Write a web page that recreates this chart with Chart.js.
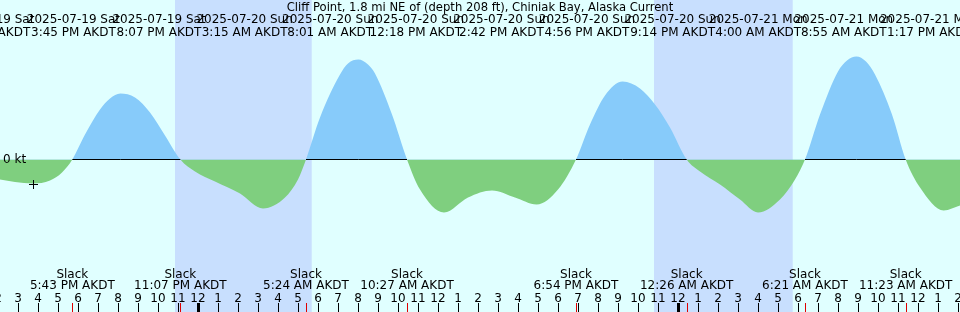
<!DOCTYPE html>
<html>
<head>
<meta charset="utf-8">
<script src="https://cdn.jsdelivr.net/npm/chart.js@4.4.1/dist/chart.umd.min.js"></script>
<style>
html,body{margin:0;padding:0;background:#e0ffff;}
canvas{display:block;}
</style>
</head>
<body>
<canvas id="c" width="960" height="312"></canvas>
<script>
// ---------- DATA (time = hours since 2025-07-19 00:00 AKDT, current in knots) ----------
const title = 'Cliff Point, 1.8 mi NE of (depth 208 ft), Chiniak Bay, Alaska Current';
const times = [
  14.1, 14.85, 15.75, 16.6, 17.2, 17.717,
  18.35, 19.1, 19.6, 20.117, 20.85, 21.6, 22.35, 23.117,
  23.85, 24.85, 26.1, 27.25, 28.35, 29.0, 29.4,
  30.1, 31.1, 31.5, 32.017, 32.5, 32.85, 33.7, 34.45,
  35.1, 36.3, 37.5, 38.7, 39.85, 40.933, 42.0, 42.9,
  43.6, 44.35, 45.233, 46.1, 46.85, 47.6, 48.433,
  49.1, 50.1, 51.1, 52.0, 53.1, 53.85, 54.35,
  55.1, 56.0, 56.45, 56.917, 57.4, 57.85, 58.7, 59.383,
  60.1, 61.283, 62.1
];
const current = [
  -0.20, -0.225, -0.24, -0.21, -0.13, 0,
  0.25, 0.50, 0.61, 0.66, 0.62, 0.47, 0.24, 0,
  -0.12, -0.22, -0.34, -0.49, -0.38, -0.20, 0,
  0.42, 0.85, 0.96, 1.00, 0.95, 0.86, 0.45, 0,
  -0.30, -0.53, -0.38, -0.31, -0.38, -0.45, -0.30, 0,
  0.35, 0.64, 0.78, 0.71, 0.55, 0.32, 0,
  -0.12, -0.25, -0.40, -0.53, -0.40, -0.20, 0,
  0.45, 0.88, 0.99, 1.03, 0.98, 0.85, 0.45, 0,
  -0.28, -0.51, -0.46
];
const slackTimes  = [17.717, 23.117, 29.4, 34.45, 42.9, 48.433, 54.35, 59.383];
const slackLabels = ['5:43 PM AKDT','11:07 PM AKDT','5:24 AM AKDT','10:27 AM AKDT','6:54 PM AKDT','12:26 AM AKDT','6:21 AM AKDT','11:23 AM AKDT'];
const eventDates = ['2025-07-19 Sat','2025-07-19 Sat','2025-07-19 Sat','2025-07-20 Sun','2025-07-20 Sun','2025-07-20 Sun','2025-07-20 Sun','2025-07-20 Sun','2025-07-20 Sun','2025-07-21 Mon','2025-07-21 Mon','2025-07-21 Mon'];
const eventTimes = ['1:50 PM AKDT','3:45 PM AKDT','8:07 PM AKDT','3:15 AM AKDT','8:01 AM AKDT','12:18 PM AKDT','2:42 PM AKDT','4:56 PM AKDT','9:14 PM AKDT','4:00 AM AKDT','8:55 AM AKDT','1:17 PM AKDT'];
const nightStart = [22.85, 46.8];
const nightEnd   = [29.685, 53.735];
const markerTime = 15.75, markerValue = -0.24;
const zeroLabel = '0 kt';

// ---------- LAYOUT ----------
const X_MIN = 14.1, X_MAX = 62.1;
const Y_MIN = -1.525, Y_MAX = 1.595;
const LABEL_FIRST_CENTER = -12.2, LABEL_STEP = 85.6;
const FONT = '12px "DejaVu Sans", sans-serif';
const TITLE_FONT = '11.6px "DejaVu Sans", sans-serif';
const COLORS = {day:'#e0ffff', night:'#c8dffe', flood:'#87cbfa', ebb:'#7fcf7f', red:'#e00000'};

const bgPlugin = {
  id:'bg',
  beforeDraw(chart){
    const {ctx, scales:{x}} = chart;
    ctx.save();
    ctx.fillStyle = COLORS.day;
    ctx.fillRect(0,0,chart.width,chart.height);
    ctx.fillStyle = COLORS.night;
    for(let i=0;i<nightStart.length;i++){
      const a = x.getPixelForValue(nightStart[i]), b = x.getPixelForValue(nightEnd[i]);
      ctx.fillRect(a,0,b-a,chart.height);
    }
    ctx.restore();
  }
};

const textPlugin = {
  id:'texts',
  afterDatasetsDraw(chart){
    const {ctx, scales:{x, y}} = chart;
    ctx.save();
    // marker cross
    const mx = Math.round(x.getPixelForValue(markerTime)) + 0.5;
    const my = Math.round(y.getPixelForValue(markerValue)) + 0.5;
    ctx.strokeStyle = '#000'; ctx.lineWidth = 1;
    ctx.beginPath();
    ctx.moveTo(mx-4.5, my); ctx.lineTo(mx+4.5, my);
    ctx.moveTo(mx, my-4.5); ctx.lineTo(mx, my+4.5);
    ctx.stroke();

    ctx.fillStyle = '#000';
    ctx.textBaseline = 'alphabetic';
    // title
    ctx.font = TITLE_FONT;
    ctx.textAlign = 'center';
    ctx.fillText(title, 480, 11);
    // event labels (evenly spaced columns)
    ctx.font = FONT;
    for(let i=0;i<eventDates.length;i++){
      const cx = LABEL_FIRST_CENTER + LABEL_STEP*i;
      ctx.fillText(eventDates[i], cx, 23);
      ctx.fillText(eventTimes[i], cx, 36);
    }
    // zero label
    ctx.textAlign = 'left';
    ctx.fillText(zeroLabel, 3, 163);
    // slack labels
    ctx.textAlign = 'center';
    for(let i=0;i<slackTimes.length;i++){
      const px = x.getPixelForValue(slackTimes[i]);
      ctx.fillText('Slack', px, 278);
      ctx.fillText(slackLabels[i], px, 289);
    }
    // hour ticks + labels
    for(let h=Math.ceil(X_MIN-0.5); h<=Math.floor(X_MAX+0.5); h++){
      const px = Math.round(x.getPixelForValue(h));
      ctx.fillStyle = '#000';
      ctx.fillText(String((h%12)||12), px, 302);
      if(h%24===0) ctx.fillRect(px-1,303,3,9);
      else ctx.fillRect(px,303,1,9);
    }
    ctx.fillStyle = COLORS.red;
    for(const s of slackTimes){
      const px = Math.round(x.getPixelForValue(s));
      ctx.fillRect(px,303,1,9);
    }
    ctx.restore();
  }
};

const pts = times.map((t,i)=>({x:t,y:current[i]}));
const zero = times.map(t=>({x:t,y:0}));

new Chart(document.getElementById('c'),{
  type:'line',
  data:{datasets:[
    {
      data:pts, borderWidth:0, borderColor:'rgba(0,0,0,0)', pointRadius:0, pointHoverRadius:0, pointBorderWidth:0,
      cubicInterpolationMode:'monotone',
      fill:{target:'origin', above:COLORS.flood, below:COLORS.ebb},
      order:2
    },
    {
      data:zero, borderWidth:1, pointRadius:0, pointHoverRadius:0, pointBorderWidth:0, fill:false,
      segment:{borderColor: c => (current[c.p0DataIndex]+current[c.p1DataIndex] > 0 ? '#000' : 'rgba(0,0,0,0)')},
      order:1
    }
  ]},
  options:{
    responsive:false, animation:false,
    layout:{padding:0},
    events:[],
    plugins:{legend:{display:false}, tooltip:{enabled:false}, title:{display:false}},
    scales:{
      x:{type:'linear', min:X_MIN, max:X_MAX, display:false},
      y:{type:'linear', min:Y_MIN, max:Y_MAX, display:false}
    }
  },
  plugins:[bgPlugin, textPlugin]
});
</script>
</body>
</html>
